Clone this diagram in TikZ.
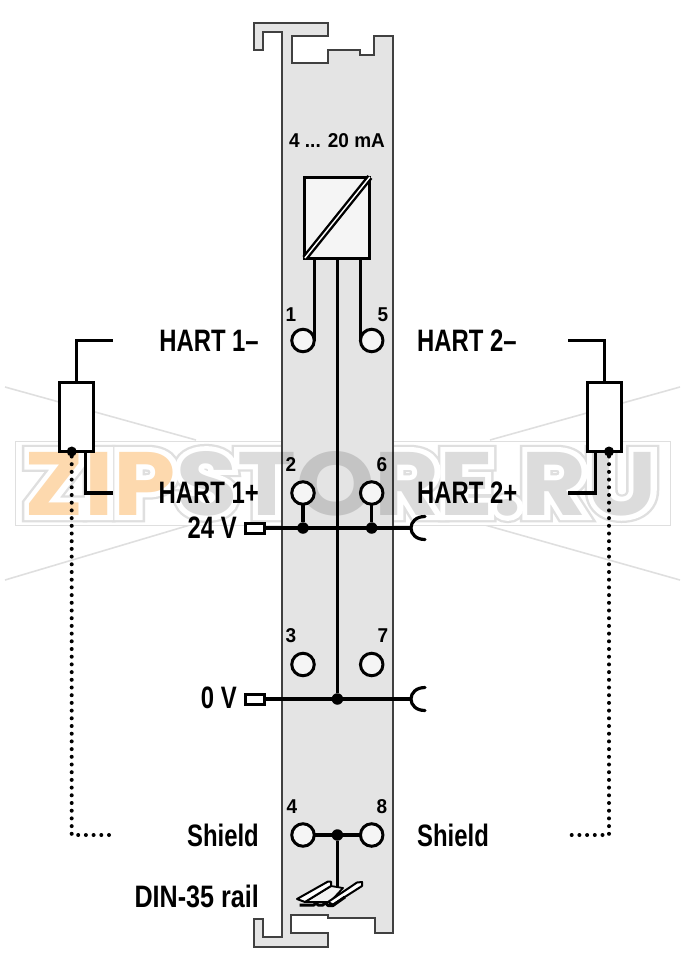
\documentclass[tikz,border=0pt]{standalone}
\usepackage{fontspec}
\usepackage{graphicx}
\setmainfont{Liberation Sans}
\newfontfamily\lblfont[FakeStretch=0.77]{Liberation Sans}
\newfontfamily\lblwide[FakeStretch=0.81]{Liberation Sans}
\newfontfamily\numfont[FakeStretch=0.95]{Liberation Sans}
\newfontfamily\wmfont{Poppins}
\definecolor{plate}{HTML}{E4E4E4}
\definecolor{wmorange}{HTML}{FDD9AE}
\definecolor{wmgray}{HTML}{DCDCDC}
\definecolor{wmline}{HTML}{DFDFDF}
\newcommand{\wmtext}[3]{\resizebox{632pt}{64pt}{\wmfont\bfseries#1\textcolor{#2}{ZIP}\textcolor{#3}{STORE.RU}}}
\tikzset{
  wire/.style={line width=3.2pt,black},
  frameline/.style={line width=2pt,draw=black!75,fill=plate,line join=miter},
  term/.style={circle,draw=black,fill=white!96!black,line width=3pt,minimum size=22.5pt,inner sep=0pt,outer sep=0pt},
  junction/.style={circle,fill=black,minimum size=11.5pt,inner sep=0pt,outer sep=0pt},
  res/.style={rectangle,draw=black,fill=white,line width=3pt,inner sep=0pt,outer sep=0pt,minimum width=34pt,minimum height=69pt},
  plug/.style={rectangle,draw=black,fill=white,line width=3pt,inner sep=0pt,outer sep=0pt,minimum width=19pt,minimum height=10pt},
  lbl/.style={inner sep=0pt,font=\lblfont\bfseries\fontsize{31}{31}\selectfont},
  num/.style={inner sep=0pt,font=\numfont\bfseries\fontsize{20}{20}\selectfont},
  dots/.style={line width=4pt,line cap=round,dash pattern=on 0pt off 7.7pt,black},
  wm/.style={inner sep=0pt,outer sep=0pt},
  railpart/.style={line width=2pt,draw=black,fill=white,line join=round}
}
\begin{document}
\begin{tikzpicture}[x=1pt,y=-1pt]
\useasboundingbox (0,0) rectangle (682,970);
% watermark (behind)
\draw[wmline,line width=1.6pt] (5,387) -- (196,440);
\draw[wmline,line width=1.6pt] (5,580) -- (190,525);
\draw[wmline,line width=1.6pt] (680,387) -- (490,440);
\draw[wmline,line width=1.6pt] (680,580) -- (485,525);
\draw[wmline,line width=1pt,fill=white] (15,441) rectangle (670,525);
\node[wm] (wmA) at (341,483.5) {\wmtext{\addfontfeature{FakeBold=16}}{wmline}{wmline}};
\node[wm] (wmB) at (341,483.5) {\wmtext{\addfontfeature{FakeBold=11}}{white}{white}};
% plate
\draw[frameline] (254,23) -- (328,23) -- (328,36) -- (292,36) -- (292,63) -- (328,63) -- (328,50) -- (360,50) -- (360,55) -- (374,55) -- (374,36) -- (392.5,36)
  -- (392.5,933) -- (374.5,933) -- (374.5,918) -- (328,918) -- (328,915) -- (291,915) -- (291,933) -- (328,933) -- (328,947) -- (254,947) -- (254,919) -- (263,919) -- (263,937) -- (282,937)
  -- (282,32) -- (263,32) -- (263,50) -- (254,50) -- cycle;
\begin{scope}[blend mode=multiply]
\node[wm] (wmC) at (341,483.5) {\wmtext{}{wmorange}{wmgray}};
\end{scope}
% converter
\node[rectangle,draw=black,fill=white!96!black,line width=3pt,inner sep=0pt,outer sep=0pt,minimum width=65pt,minimum height=81pt] (conv) at (337.4,217.5) {};
\draw[line width=2.4pt,double=white,double distance=1.4pt] (conv.south west) -- (conv.north east);
\node[num] (title) at (337,141) {4 ... 20 mA};
% terminals
\node[term] (c1) at (303,340.5) {};
\node[term] (c5) at (371.7,340.5) {};
\node[term] (c2) at (303,493) {};
\node[term] (c6) at (371.7,493) {};
\node[term] (c3) at (303,664.5) {};
\node[term] (c7) at (371.7,664.5) {};
\node[term] (c4) at (303,835) {};
\node[term] (c8) at (371.7,835) {};
\node[num] (n1) at (291,315) {1};
\node[num] (n5) at (383,315) {5};
\node[num] (n2) at (291,465) {2};
\node[num] (n6) at (382,465) {6};
\node[num] (n3) at (291,636) {3};
\node[num] (n7) at (383,636) {7};
\node[num] (n4) at (292,807) {4};
\node[num] (n8) at (382,807) {8};
% buses
\node[plug] (p24) at (254.5,528) {};
\node[plug] (p0) at (254.5,699) {};
\coordinate (s24) at (425,516.5);
\coordinate (s0) at (425,687.5);
\coordinate (e24) at (411,528);
\coordinate (e0) at (411,699);
\node[junction] (j2) at (303,528) {};
\node[junction] (j6) at (371.7,528) {};
\node[junction] (j0) at (337.4,699) {};
\node[junction] (j4) at (337.4,835) {};
\draw[wire] (p24.east) -- (e24);
\draw[wire] (p0.east) -- (e0);
\draw[wire,line cap=round] (s24) .. controls (416,516.5) and (411,522) .. (411,528) .. controls (411,534) and (416,539.5) .. (425,539.5);
\draw[wire,line cap=round] (s0) .. controls (416,687.5) and (411,693) .. (411,699) .. controls (411,705) and (416,710.5) .. (425,710.5);
\draw[wire] (c2) -- (j2);
\draw[wire] (c6) -- (j6);
\draw[wire] (conv.south) -- (j0);
\coordinate (b1) at (314.25,258);
\coordinate (b5) at (360.45,258);
\draw[wire] (b1) -- (c1.east);
\draw[wire] (b5) -- (c5.west);
\draw[wire] (c4) -- (j4) -- (c8);
% rail
\coordinate (railtop) at (337.4,888);
\draw[wire] (j4) -- (railtop);
\draw[line width=1.8pt,fill=plate!50!white,line join=round] (305,902) -- (331,886) -- (343,888) -- (330,902) -- cycle;
\draw[railpart] (297,899) -- (328,881.5) -- (331,881.5) -- (331,886) -- (305,902) -- cycle;
\draw[railpart] (328,902) -- (357,882.5) -- (362,882) -- (362,886) -- (333,904.5) -- cycle;
\draw[line width=3pt,line join=round] (299.5,905) -- (314,905) -- (316,902.5) -- (318,905) -- (323,905) -- (325,902.5) -- (328,905.5) -- (333,905.5) -- (345,897);
% resistors
\node[res] (r1) at (76.3,417) {};
\node[res] (r2) at (604.2,417) {};
\coordinate (a1) at (113,340.7);
\coordinate (a2) at (113,493);
\coordinate (a3) at (568,340.7);
\coordinate (a4) at (568,493);
\coordinate (rb1) at (85.7,451.5);
\coordinate (rb2) at (595.7,451.5);
\draw[wire,line join=miter] (r1.north) |- (a1);
\draw[wire,line join=miter] (rb1) |- (a2);
\draw[wire,line join=miter] (r2.north) |- (a3);
\draw[wire,line join=miter] (rb2) |- (a4);
\node[junction,minimum size=10pt] (d1) at (71.7,451.5) {};
\node[junction,minimum size=10pt] (d2) at (609,451.5) {};
\coordinate (k1) at (71.7,835);
\coordinate (k2) at (609,835);
\coordinate (f1) at (113,835);
\coordinate (f2) at (568,835);
\draw[dots] (d1) -- (k1) -- (f1);
\draw[dots] (d2) -- (k2) -- (f2);
% labels
\node[lbl,anchor=east] (l1) at (259,341) {HART 1–};
\node[lbl,anchor=west] (l2) at (417,341) {HART 2–};
\node[lbl,anchor=east] (l3) at (259,493) {HART 1+};
\node[lbl,anchor=west] (l4) at (417,493) {HART 2+};
\node[lbl,anchor=east] (l5) at (237,528) {24 V};
\node[lbl,anchor=east] (l6) at (237,698) {0 V};
\node[lbl,anchor=east] (l7) at (259,835) {Shield};
\node[lbl,anchor=west] (l8) at (417,835) {Shield};
\node[lbl,anchor=east,font=\lblwide\bfseries\fontsize{31}{31}\selectfont] (l9) at (259,896) {DIN-35 rail};
\end{tikzpicture}
\end{document}
